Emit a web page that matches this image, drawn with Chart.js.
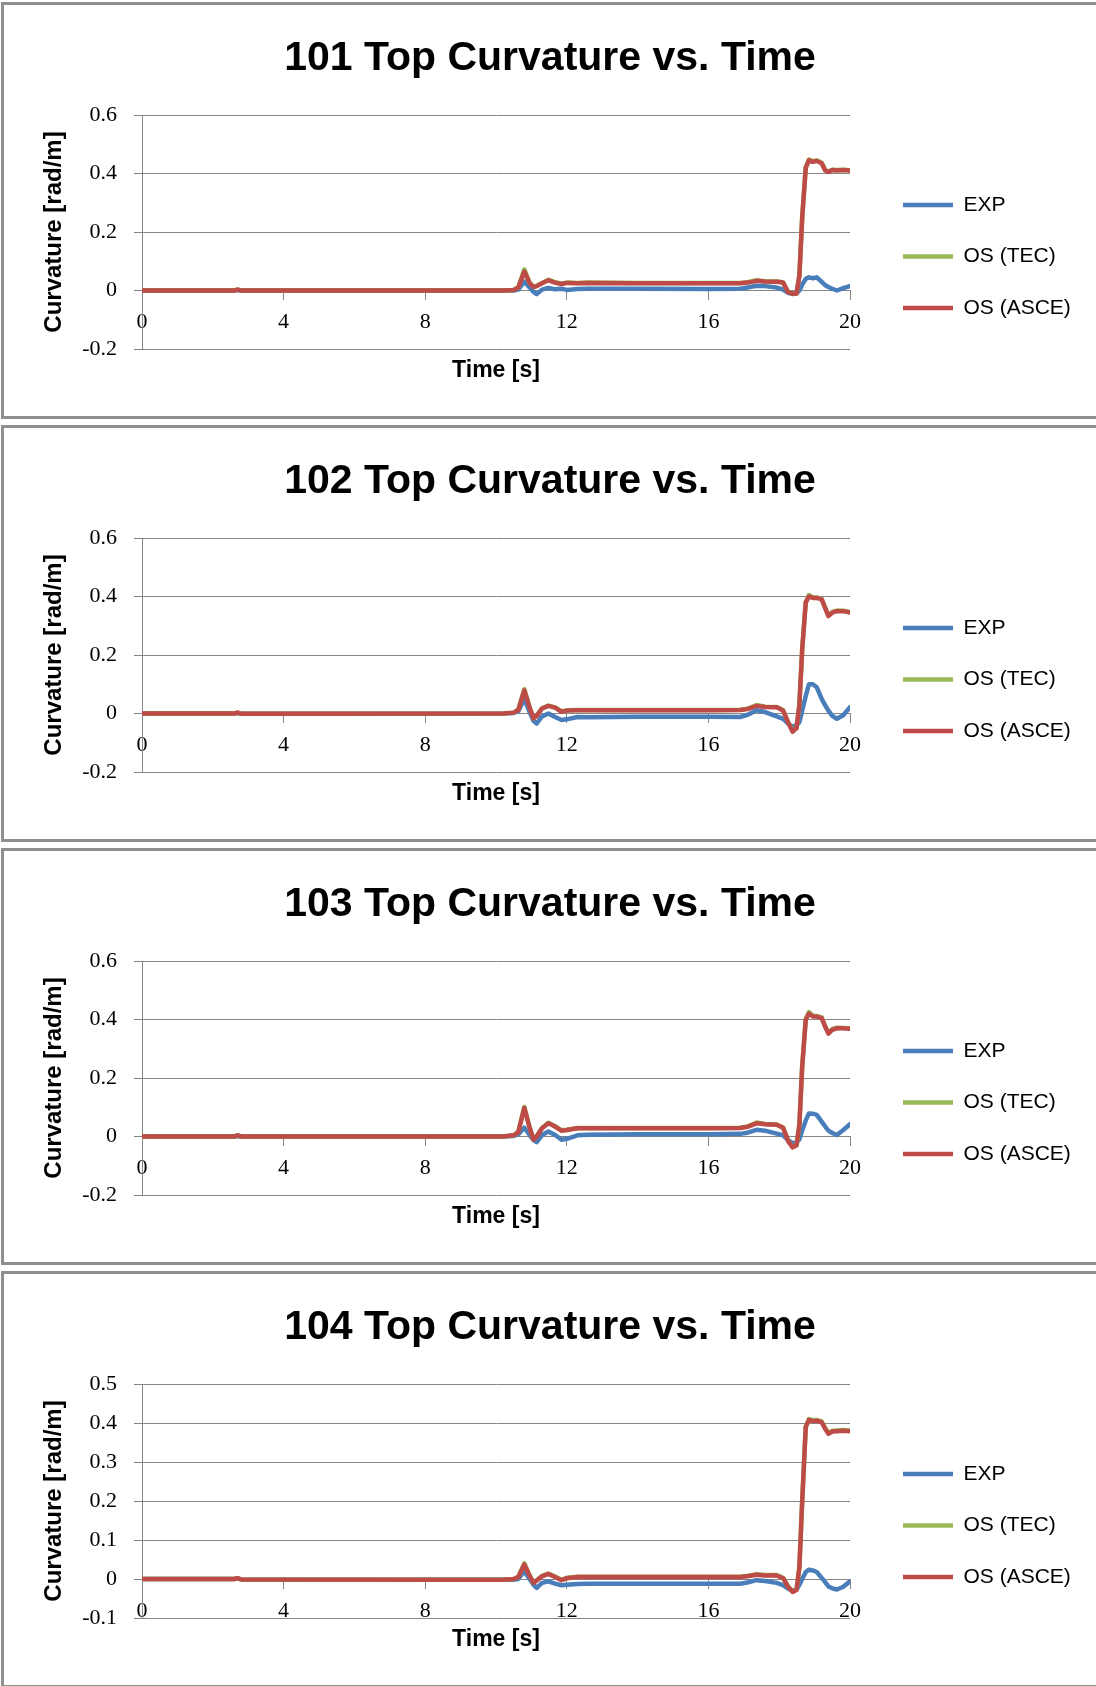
<!DOCTYPE html>
<html>
<head>
<meta charset="utf-8">
<title>Top Curvature vs. Time</title>
<script src="https://cdn.jsdelivr.net/npm/chart.js@4.4.1/dist/chart.umd.min.js"></script>
<style>
  html, body { margin: 0; padding: 0; background: #fff; overflow: hidden; }
  body { width: 1096px; height: 1686px; position: relative; }
  .panel {
    position: absolute;
    left: 1px;
    width: 1110px;
    height: 411px;
    border: 3px solid #8f8f8f;
    background: #fff;
  }
  .panel canvas { position: absolute; left: 0; top: 0; }
</style>
</head>
<body>

<div class="panel" style="top:2px"><canvas id="c101" width="1100" height="411"></canvas></div>
<div class="panel" style="top:425px"><canvas id="c102" width="1100" height="411"></canvas></div>
<div class="panel" style="top:848px"><canvas id="c103" width="1100" height="411"></canvas></div>
<div class="panel" style="top:1271px"><canvas id="c104" width="1100" height="411"></canvas></div>

<script>
// ── Sample times [s], shared by every series ─────────────────
const TIME = [0, 2.6, 2.7, 2.8, 10.2, 10.5, 10.63, 10.8, 10.95, 11.06, 11.15, 11.3,
  11.48, 11.67, 11.85, 12.0, 12.3, 12.6, 14.0, 16.0, 16.9, 17.1, 17.36, 17.6, 17.93,
  18.11, 18.25, 18.38, 18.49, 18.57, 18.65, 18.75, 18.84, 18.95, 19.06, 19.2, 19.3,
  19.39, 19.5, 19.63, 19.81, 20];

// ── Curvature [rad/m] ────────────────────────────────────────
const EXP_101  = [0, 0, 0.002, 0, 0, 0, 0.003, 0.03, 0.01, -0.005, -0.012, 0.003, 0.009, 0.004, 0.006, 0.002, 0.005, 0.006, 0.006, 0.005, 0.006, 0.01, 0.016, 0.015, 0.01, 0.003, -0.008, -0.012, -0.01, 0.0, 0.02, 0.04, 0.045, 0.042, 0.045, 0.03, 0.018, 0.012, 0.006, 0.0, 0.008, 0.015];
const TEC_101  = [0, 0, 0.003, 0, 0, 0.002, 0.011, 0.072, 0.026, 0.013, 0.016, 0.026, 0.037, 0.028, 0.023, 0.027, 0.026, 0.027, 0.026, 0.026, 0.026, 0.028, 0.035, 0.032, 0.031, 0.028, -0.005, -0.011, -0.01, 0.05, 0.25, 0.42, 0.448, 0.442, 0.445, 0.437, 0.412, 0.407, 0.413, 0.412, 0.413, 0.411];
const ASCE_101 = [0, 0, 0.003, 0, 0, 0.002, 0.01, 0.065, 0.025, 0.012, 0.015, 0.025, 0.035, 0.027, 0.022, 0.026, 0.025, 0.026, 0.025, 0.025, 0.025, 0.027, 0.033, 0.031, 0.03, 0.027, -0.006, -0.011, -0.01, 0.05, 0.25, 0.42, 0.445, 0.44, 0.443, 0.435, 0.41, 0.405, 0.412, 0.41, 0.412, 0.41];

const EXP_102  = [0, 0, 0.002, -0.001, 0, 0.002, 0.008, 0.05, 0.005, -0.025, -0.034, -0.01, 0.0, -0.012, -0.022, -0.02, -0.012, -0.013, -0.011, -0.011, -0.012, -0.005, 0.011, 0.005, -0.01, -0.018, -0.035, -0.045, -0.04, -0.03, 0.01, 0.06, 0.1, 0.1, 0.09, 0.05, 0.028, 0.01, -0.008, -0.018, -0.006, 0.022];
const TEC_102  = [0, 0, 0.003, -0.001, 0, 0.003, 0.013, 0.083, 0.021, -0.016, -0.007, 0.018, 0.027, 0.021, 0.007, 0.011, 0.012, 0.012, 0.012, 0.012, 0.013, 0.016, 0.029, 0.023, 0.022, 0.011, -0.029, -0.061, -0.05, 0.03, 0.22, 0.38, 0.405, 0.397, 0.397, 0.392, 0.362, 0.335, 0.347, 0.352, 0.351, 0.347];
const ASCE_102 = [0, 0, 0.003, -0.001, 0, 0.003, 0.012, 0.079, 0.02, -0.017, -0.008, 0.017, 0.026, 0.02, 0.006, 0.01, 0.011, 0.011, 0.011, 0.011, 0.012, 0.015, 0.026, 0.022, 0.021, 0.01, -0.03, -0.062, -0.05, 0.03, 0.22, 0.38, 0.4, 0.395, 0.395, 0.39, 0.36, 0.333, 0.345, 0.35, 0.35, 0.345];

const EXP_103  = [0, 0, 0.002, 0, 0, 0.002, 0.008, 0.03, 0.005, -0.012, -0.019, 0.005, 0.017, 0.005, -0.011, -0.008, 0.004, 0.006, 0.008, 0.008, 0.009, 0.013, 0.023, 0.02, 0.01, 0.004, -0.012, -0.023, -0.02, -0.01, 0.02, 0.055, 0.079, 0.078, 0.074, 0.051, 0.034, 0.02, 0.012, 0.005, 0.022, 0.042];
const TEC_103  = [0, 0, 0.004, 0, 0, 0.004, 0.016, 0.101, 0.031, -0.01, 0.001, 0.029, 0.047, 0.035, 0.021, 0.023, 0.029, 0.029, 0.029, 0.029, 0.03, 0.034, 0.048, 0.043, 0.041, 0.031, -0.014, -0.036, -0.03, 0.04, 0.24, 0.4, 0.425, 0.413, 0.412, 0.407, 0.377, 0.354, 0.367, 0.372, 0.371, 0.37];
const ASCE_103 = [0, 0, 0.004, 0, 0, 0.004, 0.015, 0.098, 0.03, -0.011, 0.0, 0.028, 0.045, 0.034, 0.02, 0.022, 0.028, 0.028, 0.028, 0.028, 0.029, 0.033, 0.045, 0.042, 0.04, 0.03, -0.015, -0.037, -0.03, 0.04, 0.24, 0.4, 0.42, 0.41, 0.41, 0.405, 0.375, 0.352, 0.365, 0.37, 0.37, 0.368];

const EXP_104  = [0, 0, 0.001, -0.001, -0.002, -0.002, 0.0, 0.02, 0.0, -0.015, -0.023, -0.01, -0.006, -0.012, -0.016, -0.015, -0.013, -0.012, -0.012, -0.012, -0.012, -0.009, -0.003, -0.005, -0.01, -0.016, -0.025, -0.03, -0.027, -0.015, 0.0, 0.018, 0.024, 0.022, 0.018, 0.003, -0.008, -0.019, -0.024, -0.027, -0.02, -0.006];
const TEC_104  = [0, 0, 0.002, -0.001, -0.002, 0.0, 0.006, 0.04, 0.009, -0.009, -0.003, 0.008, 0.014, 0.006, -0.002, 0.003, 0.006, 0.006, 0.006, 0.006, 0.006, 0.008, 0.012, 0.01, 0.01, 0.003, -0.019, -0.032, -0.027, 0.03, 0.2, 0.39, 0.41, 0.407, 0.408, 0.404, 0.387, 0.374, 0.38, 0.381, 0.382, 0.381];
const ASCE_104 = [0, 0, 0.002, -0.001, -0.002, 0.0, 0.005, 0.037, 0.008, -0.01, -0.004, 0.007, 0.013, 0.005, -0.003, 0.002, 0.005, 0.005, 0.005, 0.005, 0.005, 0.007, 0.011, 0.009, 0.009, 0.002, -0.02, -0.033, -0.028, 0.03, 0.2, 0.39, 0.408, 0.405, 0.406, 0.402, 0.385, 0.372, 0.378, 0.379, 0.38, 0.379];

// ── Axis ranges: [min, max, step] ────────────────────────────
const X_AXIS   = [0, 20, 4];
const Y_AXIS_A = [-0.2, 0.6, 0.2];
const Y_AXIS_B = [-0.1, 0.5, 0.1];

const SERIES_NAMES  = ['EXP', 'OS (TEC)', 'OS (ASCE)'];
const SERIES_COLORS = ['#4A7EBB', '#98B954', '#BE4B48'];

// ── Shared look ──────────────────────────────────────────────
const SANS  = "'Liberation Sans', Arial, sans-serif";
const SERIF = "'Liberation Serif', 'Times New Roman', serif";
const gridColor = '#868686';

Chart.defaults.color = '#000';
Chart.defaults.font.family = SANS;

function drawPanel(canvasId, title, seriesData, yAxis) {
  const [yMin, yMax, yStep] = yAxis;
  const [xMin, xMax, xStep] = X_AXIS;

  const datasets = seriesData.map((values, i) => ({
    label:           SERIES_NAMES[i],
    data:            TIME.map((t, k) => ({ x: t, y: values[k] })),
    borderColor:     SERIES_COLORS[i],
    backgroundColor: SERIES_COLORS[i],
    borderWidth:     4.5,
    borderJoinStyle: 'round',
    borderCapStyle:  'round',
    pointRadius:     0,
    tension:         0,
    order:           seriesData.length - i,   // red ends up on top
    xAxisID:         'x',
    yAxisID:         'y',
  }));

  new Chart(document.getElementById(canvasId), {
    type: 'line',
    data: { datasets },
    options: {
      responsive: false,
      animation:  false,
      events:     [],
      layout: { padding: { left: 23.5, right: 31.5, top: 0, bottom: 31.4 } },
      plugins: {
        tooltip: { enabled: false },
        title: {
          display: true,
          text:    title,
          color:   '#000',
          font:    { family: SANS, size: 41, weight: 'bold' },
          padding: { top: 29.5, bottom: 31.3 },
        },
        legend: {
          position: 'right',
          align:    'end',
          fullSize: false,
          maxWidth: 200,
          labels: {
            usePointStyle:   true,
            pointStyle:      'line',
            pointStyleWidth: 50,
            padding:         30.5,
            color:           '#000',
            font:            { family: SANS, size: 21 },
            sort:            (a, b) => a.datasetIndex - b.datasetIndex,
          },
        },
      },
      scales: {
        x: {
          type: 'linear',
          position: { y: 0 },
          min: xMin, max: xMax,
          ticks:  { stepSize: xStep, padding: 10, maxRotation: 0, color: '#000',
                    font: { family: SERIF, size: 22 } },
          grid:   { drawOnChartArea: false, tickLength: 9, color: gridColor },
          border: { color: gridColor },
        },
        xt: {
          type: 'linear',
          position: 'bottom',
          ticks:  { display: false },
          grid:   { display: false, drawTicks: false },
          border: { display: false },
          title: {
            display: true,
            text:    'Time [s]',
            color:   '#000',
            font:    { family: SANS, size: 23, weight: 'bold' },
            padding: { top: 8, bottom: 0 },
          },
        },
        y: {
          type: 'linear',
          position: 'left',
          min: yMin, max: yMax,
          ticks:  { stepSize: yStep, padding: 17, color: '#000',
                    font: { family: SERIF, size: 22 },
                    callback: v => Math.round(v * 10) / 10 },
          grid:   { color: gridColor, tickLength: 8 },
          border: { color: gridColor },
          title: {
            display: true,
            text:    'Curvature [rad/m]',
            color:   '#000',
            font:    { family: SANS, size: 24, weight: 'bold' },
            padding: { top: 12, bottom: 0 },
          },
          afterFit: s => { s.width = 114.5; },
        },
        // empty strip between the plot and the legend
        gap: {
          type: 'linear',
          position: 'right',
          ticks:  { display: false },
          grid:   { display: false, drawTicks: false },
          border: { display: false },
          afterFit: s => { s.width = 22.5; },
        },
      },
    },
  });
}

drawPanel('c101', '101 Top Curvature vs. Time', [EXP_101, TEC_101, ASCE_101], Y_AXIS_A);
drawPanel('c102', '102 Top Curvature vs. Time', [EXP_102, TEC_102, ASCE_102], Y_AXIS_A);
drawPanel('c103', '103 Top Curvature vs. Time', [EXP_103, TEC_103, ASCE_103], Y_AXIS_A);
drawPanel('c104', '104 Top Curvature vs. Time', [EXP_104, TEC_104, ASCE_104], Y_AXIS_B);
</script>
</body>
</html>
